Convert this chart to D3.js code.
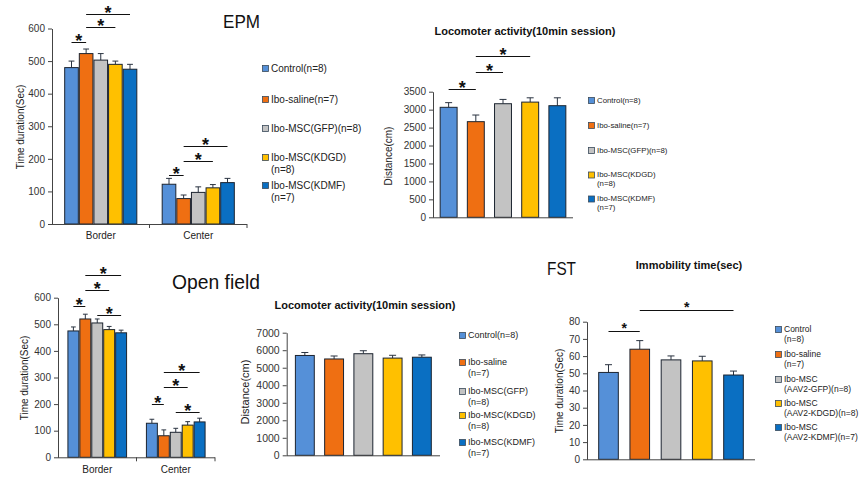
<!DOCTYPE html>
<html><head><meta charset="utf-8">
<script src="https://cdn.jsdelivr.net/npm/d3@7"></script>
<style>
html,body{margin:0;padding:0;background:#fff;}
svg{display:block;font-family:"Liberation Sans",Arial,sans-serif;}
</style></head>
<body><svg id="c" width="867" height="492"></svg>
<script>
// ---------------- DATA ----------------
const groups = ["Control","Ibo-saline","Ibo-MSC(GFP)","Ibo-MSC(KDGD)","Ibo-MSC(KDMF)"];
const groupColors = ["#5590d8","#ef6f12","#c3c3c3","#ffc000","#0a6fc2"];

const epmCategories = ["Border","Center"];
const epmBorder = [480,523,503,490,475];
const epmBorderErr = [20,14,20,10,15];
const epmCenter = [122,78,97,111,127];
const epmCenterErr = [18,11,17,10,13];
const epmTicks = [0,100,200,300,400,500,600];
const epmSig = [ {cat:0,a:0,b:1,y:558},{cat:0,a:1,b:3,y:604},{cat:0,a:1,b:4,y:644},
                 {cat:1,a:0,b:1,y:150},{cat:1,a:1,b:3,y:193},{cat:1,a:1,b:4,y:239} ];

const locoTopValues = [3065,2665,3165,3210,3110];
const locoTopErr = [130,185,120,120,220];
const locoTopTicks = [0,500,1000,1500,2000,2500,3000,3500];
const locoTopSig = [ {cat:0,a:0,b:1,y:3567},{cat:0,a:1,b:2,y:4057},{cat:0,a:1,b:3,y:4495} ];

const ofCategories = ["Border","Center"];
const ofBorder = [475,520,505,480,468];
const ofBorderErr = [15,18,15,12,10];
const ofCenter = [128,81,94,121,133];
const ofCenterErr = [15,22,15,13,14];
const ofTicks = [0,100,200,300,400,500,600];
const ofSig = [ {cat:0,a:0,b:1,y:569},{cat:0,a:1,b:3,y:629},{cat:0,a:1,b:4,y:686},{cat:0,a:2,b:4,y:535},
                {cat:1,a:0,b:1,y:200},{cat:1,a:1,b:3,y:265},{cat:1,a:1,b:4,y:321},{cat:1,a:2,b:4,y:170} ];

const locoBottomValues = [5700,5500,5800,5550,5600];
const locoBottomErr = [170,170,170,160,130];
const locoBottomTicks = [0,1000,2000,3000,4000,5000,6000,7000];

const fstValues = [50.5,64,57.8,57.2,49];
const fstErr = [4.5,5,2.3,2.7,2.3];
const fstTicks = [0,10,20,30,40,50,60,70,80];
const fstSig = [ {cat:0,a:0,b:1,y:74.6},{cat:0,a:1,b:4,y:86.6} ];

const legendEPM = [["Control(n=8)"],["Ibo-saline(n=7)"],["Ibo-MSC(GFP)(n=8)"],["Ibo-MSC(KDGD)","(n=8)"],["Ibo-MSC(KDMF)","(n=7)"]];
const legendLocoTop = [["Control(n=8)"],["Ibo-saline(n=7)"],["Ibo-MSC(GFP)(n=8)"],["Ibo-MSC(KDGD)","(n=8)"],["Ibo-MSC(KDMF)","(n=7)"]];
const legendLocoBottom = [["Control(n=8)"],["Ibo-saline","(n=7)"],["Ibo-MSC(GFP)","(n=8)"],["Ibo-MSC(KDGD)","(n=8)"],["Ibo-MSC(KDMF)","(n=7)"]];
const legendFST = [["Control","(n=8)"],["Ibo-saline","(n=7)"],["Ibo-MSC","(AAV2-GFP)(n=8)"],["Ibo-MSC","(AAV2-KDGD)(n=8)"],["Ibo-MSC","(AAV2-KDMF)(n=7)"]];

// ---------------- DRAW ----------------
const svg = d3.select("#c");

function drawPanel(cfg){
  const g = svg.append("g");
  const y = d3.scaleLinear().domain([0, cfg.max]).range([cfg.y0, cfg.y1]);
  const xc = d3.scaleBand().domain(d3.range(cfg.series.length)).range([cfg.x0, cfg.x1])
               .paddingInner(cfg.pi).paddingOuter(cfg.po);
  const xg = d3.scaleBand().domain(d3.range(groups.length)).range([0, xc.bandwidth()])
               .paddingInner(cfg.gpi||0).paddingOuter(cfg.gpo||0);
  const bw = xg.bandwidth();
  const cap = Math.min(3.5, bw*0.2);

  cfg.series.forEach((s, ci) => {
    const data = s.values.map((v,i)=>({v, e:s.errs[i], i}));
    const eg = g.append("g");
    eg.selectAll("line.v").data(data).join("line")
      .attr("x1", d=>xc(ci)+xg(d.i)+bw/2).attr("x2", d=>xc(ci)+xg(d.i)+bw/2)
      .attr("y1", d=>y(d.v)).attr("y2", d=>y(d.v+d.e))
      .attr("stroke","#2a3340").attr("stroke-width",1);
    eg.selectAll("line.c").data(data).join("line")
      .attr("x1", d=>xc(ci)+xg(d.i)+bw/2-cap).attr("x2", d=>xc(ci)+xg(d.i)+bw/2+cap)
      .attr("y1", d=>y(d.v+d.e)).attr("y2", d=>y(d.v+d.e))
      .attr("stroke","#2a3340").attr("stroke-width",1);
    g.append("g").selectAll("rect").data(data).join("rect")
      .attr("x", d=>xc(ci)+xg(d.i)+0.5).attr("y", d=>y(d.v))
      .attr("width", bw-1).attr("height", d=>y(0)-y(d.v))
      .attr("fill", d=>groupColors[d.i]).attr("stroke","#1c2430").attr("stroke-width",1);
    if (s.label){
      g.append("text").attr("x", xc(ci)+xc.bandwidth()/2).attr("y", cfg.y0+cfg.labelDy)
       .attr("text-anchor","middle").attr("font-size",cfg.labelSize||10).attr("fill","#222").text(s.label);
    }
  });

  const ax = g.append("g").attr("transform",`translate(${cfg.x0},0)`)
    .call(d3.axisLeft(y).tickValues(cfg.ticks).tickFormat(d3.format("d")).tickSize(4).tickSizeOuter(0).tickPadding(3));
  ax.select(".domain").attr("stroke","#444");
  ax.selectAll(".tick line").attr("stroke","#444");
  ax.selectAll(".tick text").attr("font-size",cfg.tickSize||10).attr("fill","#333")
    .attr("font-family","'Liberation Sans',Arial,sans-serif");
  g.append("line").attr("x1",cfg.x0).attr("x2",cfg.x1).attr("y1",y(0)+0.5).attr("y2",y(0)+0.5)
    .attr("stroke","#444");
  if (cfg.series.length > 1){
    const st = xc.step();
    const bounds = [xc(1) - st*cfg.pi/2, cfg.x1];
    bounds.forEach(b=>g.append("line").attr("x1",b).attr("x2",b).attr("y1",y(0)).attr("y2",y(0)+4).attr("stroke","#444"));
  }

  (cfg.sig||[]).forEach(s=>{
    const xa = xc(s.cat)+xg(s.a)+bw/2, xb = xc(s.cat)+xg(s.b)+bw/2;
    const yy = Math.round(y(s.y))+0.5;
    g.append("line").attr("x1",xa).attr("x2",xb).attr("y1",yy).attr("y2",yy).attr("stroke","#111").attr("stroke-width",1);
    g.append("text").attr("x",(xa+xb)/2).attr("y",yy+cfg.starDy).attr("text-anchor","middle")
      .attr("font-size",cfg.starSize).attr("font-weight","bold").attr("fill","#111").text("*");
  });

  g.append("text").attr("transform",`translate(${cfg.ytX},${cfg.ytY}) rotate(-90)`)
   .attr("text-anchor","middle").attr("font-size",cfg.ytSize||10).attr("fill","#222").text(cfg.yTitle);
}

function drawLegend(items, x, ys, size, lineGap){
  const g = svg.append("g");
  items.forEach((lines,i)=>{
    const cy = ys[i];
    g.append("rect").attr("x",x+0.5).attr("y",cy-3+0.5).attr("width",6).attr("height",6)
      .attr("fill",groupColors[i]).attr("stroke","#3a4a5a").attr("stroke-width",0.8);
    lines.forEach((t,j)=>{
      g.append("text").attr("x",x+9).attr("y",cy+size*0.36+j*lineGap).attr("font-size",size)
       .attr("fill","#222").text(t);
    });
  });
}

function title(t, x, y, size, weight, anchor, len){
  const e = svg.append("text").attr("x",x).attr("y",y).attr("font-size",size).attr("font-weight",weight||"normal")
    .attr("text-anchor",anchor||"start").attr("fill","#111").text(t);
  if (len) e.attr("textLength",len).attr("lengthAdjust","spacingAndGlyphs");
}

// EPM
drawPanel({x0:52,x1:247,y0:224,y1:28.5,max:600,ticks:epmTicks,pi:0.25,po:0.125,
  series:[{label:epmCategories[0],values:epmBorder,errs:epmBorderErr},{label:epmCategories[1],values:epmCenter,errs:epmCenterErr}],
  labelDy:15,sig:epmSig,starSize:18,starDy:4,yTitle:"Time duration(Sec)",ytX:24,ytY:127});
title("EPM",223,28,18,"normal","start",37);
drawLegend(legendEPM,262,[68,99,128,157,185],10,12);

// Locomotor top
drawPanel({x0:433,x1:573,y0:217.3,y1:91.7,max:3500,ticks:locoTopTicks,pi:0,po:0,gpi:0.34,gpo:0.245,
  series:[{label:"",values:locoTopValues,errs:locoTopErr}],labelDy:14,sig:locoTopSig,starSize:18,starDy:4,
  tickSize:10,yTitle:"Distance(cm)",ytX:392,ytY:156});
title("Locomoter activity(10min session)",525,35,11,"bold","middle");
drawLegend(legendLocoTop,588,[100,125,150,174.5,198.5],7.8,8.6);

// Open field
drawPanel({x0:58,x1:215,y0:457.3,y1:297.7,max:600,ticks:ofTicks,pi:0.24,po:0.12,
  series:[{label:ofCategories[0],values:ofBorder,errs:ofBorderErr},{label:ofCategories[1],values:ofCenter,errs:ofCenterErr}],
  labelDy:16,sig:ofSig,starSize:18,starDy:4,yTitle:"Time duration(Sec)",ytX:28,ytY:378});
title("Open field",172,289,20,"normal","start",88);

// Locomotor bottom
drawPanel({x0:286.7,x1:440,y0:455.3,y1:332.7,max:7000,ticks:locoBottomTicks,pi:0,po:0,gpi:0.32,gpo:0.28,
  series:[{label:"",values:locoBottomValues,errs:locoBottomErr}],labelDy:14,sig:[],starSize:18,starDy:4,
  tickSize:10.5,yTitle:"Distance(cm)",ytX:249,ytY:392,ytSize:11});
title("Locomoter activity(10min session)",365,309,11,"bold","middle");
drawLegend(legendLocoBottom,459,[335,362,391,415,442],9,10.5);

// FST
drawPanel({x0:587,x1:755,y0:459.3,y1:321.7,max:80,ticks:fstTicks,pi:0,po:0,gpi:0.34,gpo:0.358,
  series:[{label:"",values:fstValues,errs:fstErr}],labelDy:14,sig:fstSig,starSize:14,starDy:1,
  tickSize:10,yTitle:"Time duration(Sec)",ytX:563,ytY:391});
title("FST",547,275,19,"normal","start",29);
title("Immobility time(sec)",689,269,11,"bold","middle");
drawLegend(legendFST,775,[329,354,379,403,427],8.5,9.5);
</script></body></html>
